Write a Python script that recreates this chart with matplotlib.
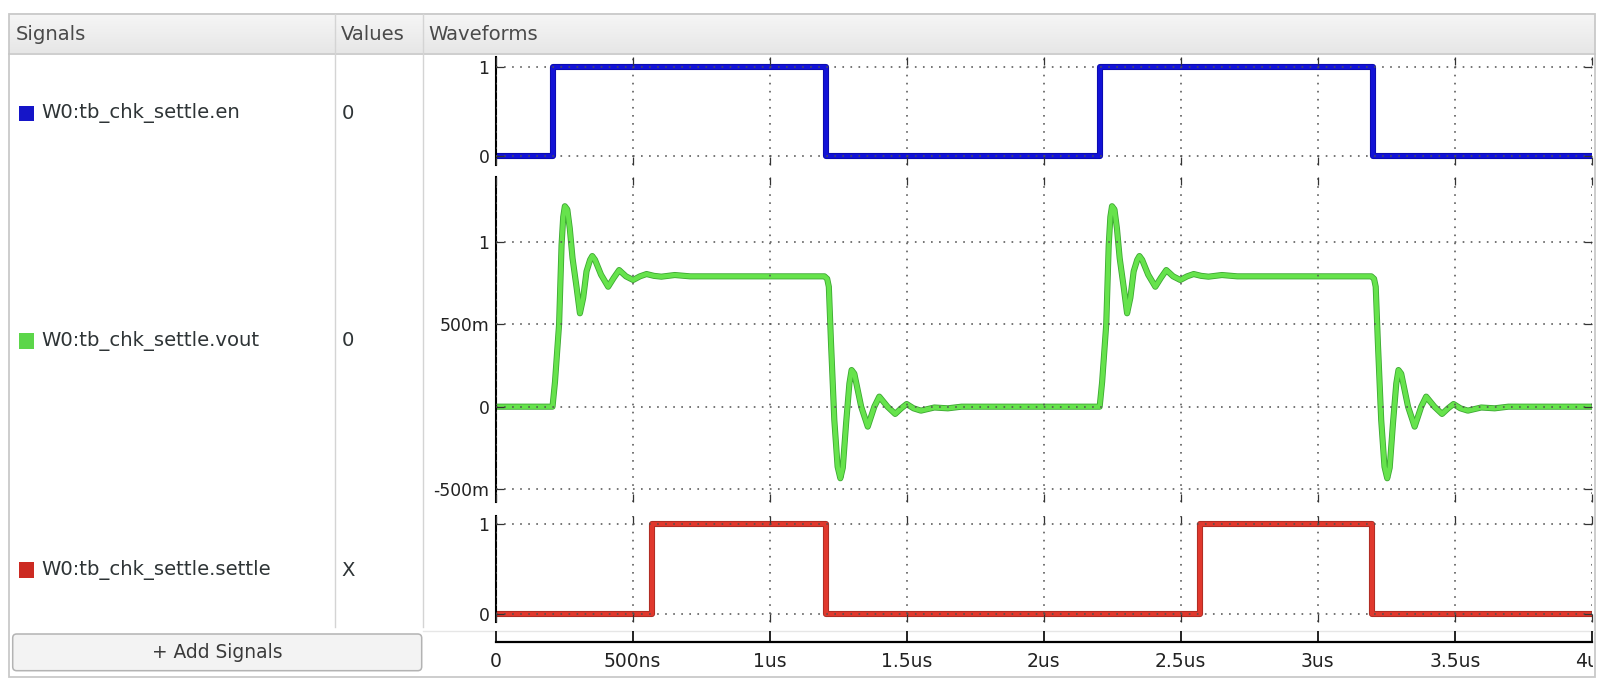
import matplotlib
matplotlib.use("Agg")
import numpy as np
import matplotlib.pyplot as plt
import matplotlib.patheffects as pe
from matplotlib.patches import Rectangle, FancyBboxPatch
from matplotlib.transforms import Bbox, TransformedBbox

plt.rcParams['font.family'] = ['DejaVu Sans']
plt.rcParams['lines.scale_dashes'] = False

W, H = 1612, 692

# signal list
signal_names = ["W0:tb_chk_settle.en", "W0:tb_chk_settle.vout", "W0:tb_chk_settle.settle"]
signal_values = ["0", "0", "X"]
square_colors = ["#1515c8", "#5cd64a", "#cc2a22"]
trace_colors = ["#1212d6", "#66e34c", "#e0382d"]
edge_colors = ["#0a0aa8", "#3ca832", "#a52a22"]

# digital traces (time in us)
en_t = [0.0, 0.21, 1.205, 2.205, 3.2, 4.0]
en_v = [0, 1, 0, 1, 0, 0]
settle_t = [0.0, 0.572, 1.204, 2.569, 3.196, 4.0]
settle_v = [0, 1, 0, 1, 0, 0]

# analog trace vout (time in us, volts)
vout_t = [0.000,
          0.208, 0.217, 0.232, 0.241, 0.247, 0.253, 0.262, 0.271, 0.281, 0.296, 0.308, 0.320, 0.332, 0.345,
          0.353, 0.363, 0.385, 0.411, 0.431, 0.451, 0.476, 0.502, 0.527, 0.551, 0.578, 0.605, 0.654, 0.710,
          1.200, 1.210, 1.216, 1.224, 1.236, 1.248, 1.258, 1.267, 1.279, 1.291, 1.299, 1.309, 1.334, 1.358,
          1.382, 1.400, 1.430, 1.458, 1.480, 1.500, 1.525, 1.552, 1.601, 1.650, 1.700,
          2.204, 2.213, 2.228, 2.237, 2.243, 2.249, 2.258, 2.267, 2.277, 2.292, 2.304, 2.316, 2.328, 2.341,
          2.349, 2.359, 2.381, 2.407, 2.427, 2.447, 2.472, 2.498, 2.523, 2.547, 2.574, 2.601, 2.650, 2.706,
          3.195, 3.205, 3.211, 3.219, 3.231, 3.243, 3.253, 3.262, 3.274, 3.286, 3.294, 3.304, 3.329, 3.353,
          3.377, 3.395, 3.425, 3.453, 3.475, 3.495, 3.520, 3.547, 3.596, 3.645, 3.695, 4.000]
vout_v = [0.0,
          0.0, 0.15, 0.50, 0.98, 1.15, 1.215, 1.195, 1.08, 0.90, 0.72, 0.566, 0.66, 0.82, 0.89,
          0.913, 0.89, 0.80, 0.727, 0.78, 0.828, 0.79, 0.768, 0.79, 0.804, 0.793, 0.788, 0.798, 0.79,
          0.79, 0.775, 0.727, 0.384, -0.081, -0.364, -0.434, -0.37, -0.10, 0.14, 0.222, 0.20, 0.0, -0.121,
          0.0, 0.061, 0.0, -0.044, -0.01, 0.016, -0.01, -0.024, -0.005, -0.01, 0.0,
          0.0, 0.15, 0.50, 0.98, 1.15, 1.215, 1.195, 1.08, 0.90, 0.72, 0.566, 0.66, 0.82, 0.89,
          0.913, 0.89, 0.80, 0.727, 0.78, 0.828, 0.79, 0.768, 0.79, 0.804, 0.793, 0.788, 0.798, 0.79,
          0.79, 0.775, 0.727, 0.384, -0.081, -0.364, -0.434, -0.37, -0.10, 0.14, 0.222, 0.20, 0.0, -0.121,
          0.0, 0.061, 0.0, -0.044, -0.01, 0.016, -0.01, -0.024, -0.005, -0.01, 0.0, 0.0]

time_ticks = [0, 0.5, 1, 1.5, 2, 2.5, 3, 3.5, 4]
time_labels = ["0", "500ns", "1us", "1.5us", "2us", "2.5us", "3us", "3.5us", "4us"]
bin_ticks = [0, 1]
bin_labels = ["0", "1"]
vout_ticks = [-0.5, 0, 0.5, 1]
vout_labels = ["-500m", "0", "500m", "1"]

fig = plt.figure(figsize=(W / 100, H / 100), dpi=100)
fig.patch.set_facecolor('white')


def px_axes(x0, y0, x1, y1):
    return fig.add_axes([x0 / W, 1 - y1 / H, (x1 - x0) / W, (y1 - y0) / H])


# ---- window chrome ----
bg = px_axes(0, 0, W, H)
grad = np.linspace(0.965, 0.905, 40)[:, None, None] * np.ones((1, 2, 3))
bg.imshow(grad, extent=(9, 1595, 53.5, 14), aspect='auto', interpolation='bilinear')
bg.set_xlim(0, W)
bg.set_ylim(H, 0)
bg.axis('off')
bg.add_patch(Rectangle((8.5, 13.5), 1586.5, 663.5, fill=False, ec='#c9c9c9', lw=1.3))
bg.plot([9, 1595], [53.5, 53.5], color='#c6c6c6', lw=1.2)
for xs in (334.5, 423):
    bg.plot([xs, xs], [14, 627], color='#d4d4d4', lw=1)
bg.plot([423, 1594], [630.5, 630.5], color='#e6e6e6', lw=1)
for x, s in zip([15.3, 340.6, 428.6], ["Signals", "Values", "Waveforms"]):
    bg.text(x, 35, s, fontsize=14.1, color='#4a4a4a', va='center', ha='left')

row_y = [113.3, 341, 570]
for y, name, val, c in zip(row_y, signal_names, signal_values, square_colors):
    bg.add_patch(Rectangle((18.5, y - 7.7), 15.5, 15.5, fc=c, ec='none'))
    bg.text(41.3, y, name, fontsize=14.1, color='#2e3436', va='center', ha='left')
    bg.text(341.5, y, val, fontsize=14.1, color='#2e3436', va='center', ha='left')

bg.add_patch(FancyBboxPatch((12.7, 634), 409, 36.7, boxstyle='round,pad=0,rounding_size=4',
                            fc='#f3f3f3', ec='#b3b3b3', lw=1.1))
bg.text(217, 652, "+ Add Signals", fontsize=13.4, color='#3a3a3a', va='center', ha='center')


# ---- waveform panels ----
def style_panel(ax, ylim, ticks, labels):
    ax.set_facecolor('none')
    ax.set_xlim(0, 4)
    ax.set_ylim(*ylim)
    ax.set_xticks(time_ticks)
    ax.set_yticks(ticks)
    ax.set_yticklabels(labels, fontsize=12.4, color='#222222')
    for s in ['top', 'right', 'bottom']:
        ax.spines[s].set_visible(False)
    ax.spines['left'].set_linewidth(1.5)
    ax.tick_params(axis='both', direction='in', top=True, right=True, bottom=True,
                   length=5.5, width=0.9, color='#333333', pad=4.5, labelbottom=False)
    ax.grid(True, color='#505050', lw=1.1, linestyle=(0, (1.2, 4.6)))
    ax.set_axisbelow(False)


def draw_trace(ax, t, v, i, step=False):
    kw = dict(color=trace_colors[i], lw=3.2, solid_joinstyle='round', solid_capstyle='butt',
              path_effects=[pe.Stroke(linewidth=4.4, foreground=edge_colors[i]), pe.Normal()])
    if step:
        ax.step(t, v, where='post', **kw)
    else:
        ax.plot(t, v, **kw)


ax_en = px_axes(495.5, 57.3, 1592, 165)
style_panel(ax_en, (-0.1, 1.105), bin_ticks, bin_labels)
draw_trace(ax_en, en_t, en_v, 0, step=True)

ax_vout = px_axes(495.5, 176.7, 1592, 501.7)
style_panel(ax_vout, (-0.576, 1.394), vout_ticks, vout_labels)
draw_trace(ax_vout, vout_t, vout_v, 1)

ax_set = px_axes(495.5, 516, 1592, 621.7)
style_panel(ax_set, (-0.082, 1.092), bin_ticks, bin_labels)
draw_trace(ax_set, settle_t, settle_v, 2, step=True)

# ---- time axis ----
axt = px_axes(495.5, 620, 1592, 642.3)
axt.set_facecolor('none')
axt.set_xlim(0, 4)
axt.set_yticks([])
for s in ['top', 'right', 'left']:
    axt.spines[s].set_visible(False)
axt.spines['bottom'].set_linewidth(1.6)
axt.set_xticks(time_ticks)
axt.set_xticklabels(time_labels, fontsize=13.5, color='#222222')
axt.tick_params(axis='x', direction='in', length=7.6, width=1.3, color='#111111', pad=7)
clip = TransformedBbox(Bbox.from_extents(0, 0, 1593 / W, 1), fig.transFigure)
for lab in axt.get_xticklabels():
    lab.set_clip_on(True)
    lab.set_clip_box(clip)

fig.savefig("out.png", dpi=100)
